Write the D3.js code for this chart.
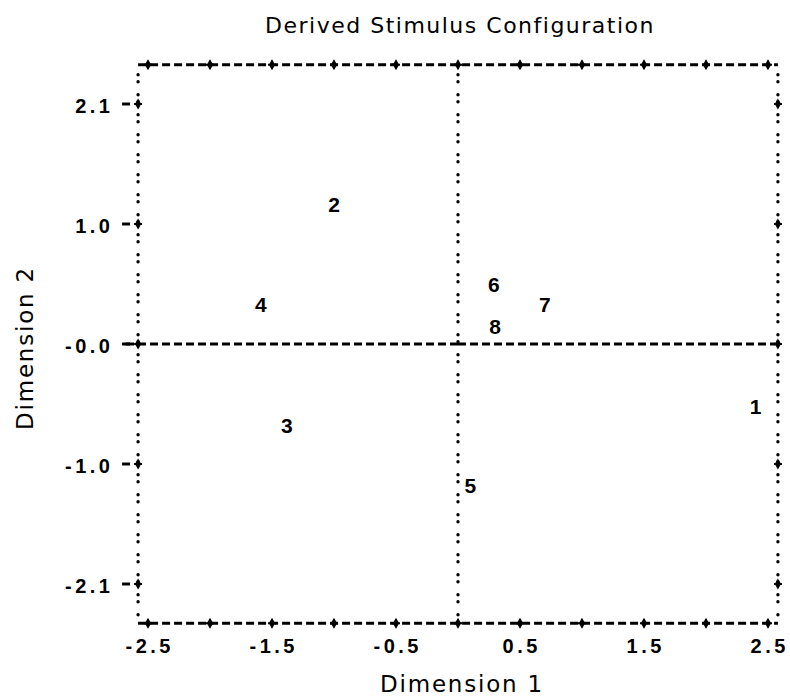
<!DOCTYPE html>
<html>
<head>
<meta charset="utf-8">
<script src="https://cdn.jsdelivr.net/npm/d3@7"></script>
<style>
body{margin:0;background:#fff;}
svg text{fill:#000;}
</style>
</head>
<body>
<div class="plot"></div>
<script>
var width=790,
    height=697;

// stimulus coordinates
var stimuli=['1','2','3','4','5','6','7','8'];
var dim1=[2.40,-1.00,-1.38,-1.59,0.10,0.29,0.70,0.30];
var dim2=[-0.54,1.21,-0.70,0.35,-1.22,0.52,0.35,0.16];

var xTicks=[-2.5,-2,-1.5,-1,-0.5,0,0.5,1,1.5,2,2.5];
var xTickLabels=[-2.5,-1.5,-0.5,0.5,1.5,2.5];
var yTicks=[2.08,1.04,0,-1.04,-2.08];
var yTickLabels=['2.1','1.0','-0.0','-1.0','-2.1'];

var x=d3.scaleLinear().domain([-2.5,2.5]).range([148,768]);
var y=d3.scaleLinear().domain([-2.08,2.08]).range([584,104]);

var xMin=x(-2.58),xMax=x(2.58),yTop=y(2.42),yBot=y(-2.42);

var svg=d3.select('.plot')
    .append('svg')
    .attr('width',width)
    .attr('height',height);

var dashed={'stroke':'#000','stroke-width':3,'stroke-dasharray':'8,4','fill':'none'};
var dotted={'stroke':'#000','stroke-width':3.4,'stroke-linecap':'round','stroke-dasharray':'0,7,0,13','fill':'none'};

function line(x1,y1,x2,y2,style){
    var l=svg.append('line')
        .attr('x1',x1).attr('y1',y1)
        .attr('x2',x2).attr('y2',y2);
    Object.keys(style).forEach(k=>l.attr(k,style[k]));
    return l;
}

// frame + reference lines
line(xMin,yTop,xMax,yTop,dashed);
line(xMin,yBot,xMax,yBot,dashed);
line(x(0),y(0),xMin-16,y(0),dashed);
line(x(0),y(0),xMax,y(0),dashed);
line(xMin,yTop+10,xMin,yBot-4,dotted);
line(xMax,yTop+10,xMax,yBot-4,dotted);
line(x(0),yTop+10,x(0),yBot-4,dotted);

var cross=d3.symbol().type(d3.symbolDiamond).size(34);

function crosses(pts){
    svg.append('g').selectAll('path')
        .data(pts)
        .enter()
        .append('path')
        .attr('d',cross)
        .attr('transform',d=>`translate(${d[0]},${d[1]})`)
        .attr('fill','#000');
    svg.append('g').selectAll('path')
        .data(pts)
        .enter()
        .append('path')
        .attr('d',d=>`M${d[0]-4},${d[1]}H${d[0]+4}M${d[0]},${d[1]-4}V${d[1]+4}`)
        .attr('stroke','#000')
        .attr('stroke-width',2);
}

crosses(xTicks.map(v=>[x(v),yTop]));
crosses(xTicks.map(v=>[x(v),yBot]));
crosses(yTicks.map(v=>[xMin,y(v)]));
crosses(yTicks.map(v=>[xMax,y(v)]));

// outer tick dashes on y axis
svg.append('g').selectAll('line')
    .data(yTicks)
    .enter()
    .append('line')
    .attr('x1',xMin-16).attr('x2',xMin-8)
    .attr('y1',d=>y(d)).attr('y2',d=>y(d))
    .attr('stroke','#000').attr('stroke-width',3);

var tickFont='"Liberation Sans", Arial, sans-serif';
var titleFont='"DejaVu Sans", sans-serif';
var sp=3.5;

svg.append('g').selectAll('text')
    .data(xTickLabels)
    .enter()
    .append('text')
    .attr('x',d=>x(d)+sp/2)
    .attr('y',yBot+30)
    .attr('text-anchor','middle')
    .style('font-family',tickFont)
    .style('font-weight','bold')
    .style('font-size','20px')
    .style('letter-spacing',sp+'px')
    .text(d=>d.toFixed(1));

svg.append('g').selectAll('text')
    .data(yTicks)
    .enter()
    .append('text')
    .attr('x',110+sp)
    .attr('y',d=>y(d)+9)
    .attr('text-anchor','end')
    .style('font-family',tickFont)
    .style('font-weight','bold')
    .style('font-size','20px')
    .style('letter-spacing',sp+'px')
    .text((d,i)=>yTickLabels[i]);

// stimulus numbers
svg.append('g').selectAll('text')
    .data(stimuli)
    .enter()
    .append('text')
    .attr('x',(d,i)=>x(dim1[i]))
    .attr('y',(d,i)=>y(dim2[i])+8)
    .attr('text-anchor','middle')
    .style('font-family',tickFont)
    .style('font-weight','bold')
    .style('font-size','21px')
    .text(d=>d);

// titles
svg.append('text')
    .attr('x',460)
    .attr('y',33)
    .attr('text-anchor','middle')
    .style('font-family',titleFont)
    .style('font-size','22px')
    .style('letter-spacing','1.5px')
    .text('Derived Stimulus Configuration');

svg.append('text')
    .attr('x',462)
    .attr('y',692)
    .attr('text-anchor','middle')
    .style('font-family',titleFont)
    .style('font-size','23px')
    .style('letter-spacing','1.8px')
    .text('Dimension 1');

svg.append('text')
    .attr('transform','translate(33,348) rotate(-90)')
    .attr('text-anchor','middle')
    .style('font-family',titleFont)
    .style('font-size','23px')
    .style('letter-spacing','1.8px')
    .text('Dimension 2');
</script>
</body>
</html>
